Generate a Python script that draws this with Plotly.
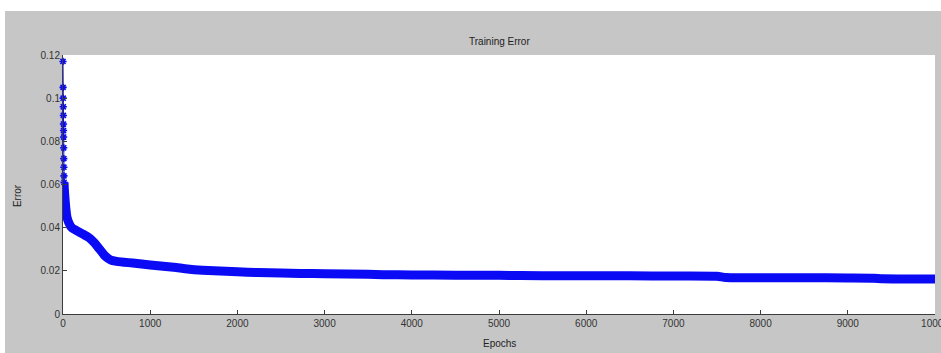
import plotly.graph_objects as go

# First epochs: error drops quickly, each epoch drawn as its own marker
early_epochs = [0, 1, 2, 3, 4, 5, 6, 7, 8, 9, 10, 11, 12]
early_error = [0.117, 0.105, 0.100, 0.096, 0.092, 0.088, 0.085, 0.082,
               0.077, 0.072, 0.068, 0.064, 0.061]

# Remaining training run (dense markers merge into a solid band)
epochs = [12, 15, 20, 30, 45, 70, 100, 160, 230, 310, 360, 400, 450, 480,
          516, 550, 600, 700, 800, 1000, 1300, 1400, 1600, 2000, 2230, 2500,
          2720, 3000, 3500, 3670, 4000, 4500, 5000, 5500, 6000, 6500, 7000,
          7500, 7600, 8000, 8500, 9000, 9300, 9400, 10000]
error = [0.061, 0.058, 0.055, 0.050, 0.045, 0.042, 0.040, 0.0385, 0.037,
         0.035, 0.033, 0.031, 0.0285, 0.027, 0.0258, 0.0250, 0.0245, 0.0240,
         0.0236, 0.0227, 0.0215, 0.0210, 0.0203, 0.0196, 0.0192, 0.0190,
         0.0188, 0.0187, 0.0184, 0.0182, 0.0181, 0.0180, 0.0179, 0.0177,
         0.0177, 0.0177, 0.0176, 0.0175, 0.0169, 0.0168, 0.0168, 0.0167,
         0.0166, 0.0163, 0.0162]

x_ticks = [0, 1000, 2000, 3000, 4000, 5000, 6000, 7000, 8000, 9000, 10000]
x_labels = ["0", "1000", "2000", "3000", "4000", "5000", "6000", "7000",
            "8000", "9000", "10000"]
y_ticks = [0, 0.02, 0.04, 0.06, 0.08, 0.1, 0.12]
y_labels = ["0", "0.02", "0.04", "0.06", "0.08", "0.1", "0.12"]

BLUE = "rgb(10,10,245)"
GRAY = "#c6c6c6"
AXIS = "#3c3c3c"
FONT = "Liberation Sans"

fig = go.Figure()
fig.add_trace(go.Scatter(
    x=early_epochs, y=early_error, mode="lines+markers",
    line=dict(color=BLUE, width=1),
    marker=dict(symbol="asterisk-open", size=6, color=BLUE,
                line=dict(color=BLUE, width=1.6)),
    cliponaxis=False, showlegend=False,
))
fig.add_trace(go.Scatter(
    x=epochs, y=error, mode="lines",
    line=dict(color=BLUE, width=9, shape="spline", smoothing=0.5),
    cliponaxis=False, showlegend=False,
))

axis_common = dict(
    showgrid=False, zeroline=False, showline=True, linecolor=AXIS,
    linewidth=1, ticks="inside", ticklen=4, tickcolor=AXIS,
    tickfont=dict(family=FONT, size=10, color="#333333"),
    automargin=False, mirror=False, ticklabeloverflow="allow",
)

fig.update_xaxes(range=[0, 10000], tickvals=x_ticks, ticktext=x_labels,
                 **axis_common)
fig.update_yaxes(range=[0, 0.12], tickvals=y_ticks, ticktext=y_labels,
                 **axis_common)

fig.update_layout(
    width=941, height=353,
    margin=dict(l=63, r=6, t=55, b=39, pad=0),
    paper_bgcolor=GRAY, plot_bgcolor="white",
    annotations=[
        dict(text="Training Error", xref="paper", yref="paper",
             x=0.5, y=1.054, showarrow=False, xanchor="center",
             yanchor="middle", font=dict(family=FONT, size=10, color="#222222")),
        dict(text="Epochs", xref="paper", yref="paper",
             x=0.5, y=-0.112, showarrow=False, xanchor="center",
             yanchor="middle", font=dict(family=FONT, size=10, color="#222222")),
        dict(text="Error", xref="paper", yref="paper",
             x=-0.0528, y=0.459, showarrow=False, textangle=-90,
             xanchor="center", yanchor="middle",
             font=dict(family=FONT, size=10, color="#222222")),
    ],
    shapes=[
        # white border strips around the grey figure window
        dict(type="rect", xref="paper", yref="paper",
             x0=-0.08, x1=1.01, y0=(314 - 11) / 259, y1=1.3,
             fillcolor="white", line=dict(width=0), layer="above"),
        dict(type="rect", xref="paper", yref="paper",
             x0=-0.08, x1=-58 / 872, y0=-0.2, y1=1.3,
             fillcolor="white", line=dict(width=0), layer="above"),
    ],
)

fig.write_html("out.html")
